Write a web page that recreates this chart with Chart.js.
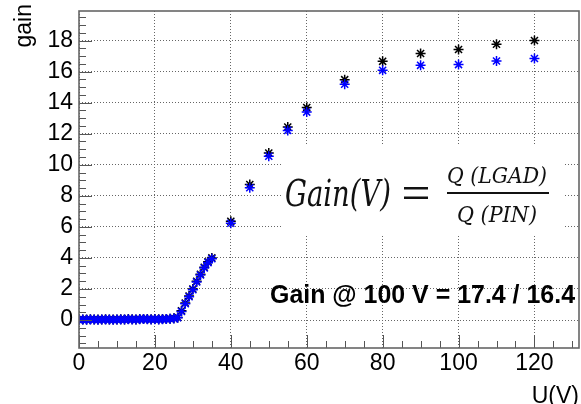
<!DOCTYPE html>
<html lang="en">
<head>
<meta charset="UTF-8">
<title>LGAD gain vs bias voltage</title>
<script src="https://cdn.jsdelivr.net/npm/chart.js"></script>
<style>
  body { margin: 0; background: #fff; }
  #gainChart { display: block; }
</style>
</head>
<body>
<canvas id="gainChart" width="581" height="404"></canvas>
<script>
  // bias voltage (V)
  const voltage = [
    0, 1, 2, 3, 4, 5, 6, 7, 8, 9, 10, 11, 12, 13, 14, 15, 16, 17, 18, 19,
    20, 21, 22, 23, 24, 25, 26, 27, 28, 29, 30, 31, 32, 33, 34, 35,
    40, 45, 50, 55, 60, 70, 80, 90, 100, 110, 120
  ];
  // gain, first measurement (black stars)
  const gainBlack = [
    0.03, 0.04, 0.03, 0.05, 0.04, 0.03, 0.04, 0.05, 0.04, 0.03, 0.04, 0.05, 0.04, 0.06, 0.05, 0.04, 0.06, 0.07, 0.06, 0.05,
    0.06, 0.05, 0.06, 0.07, 0.09, 0.11, 0.17, 0.6, 1.1, 1.55, 2.0, 2.5, 2.95, 3.4, 3.75, 4.0,
    6.36, 8.73, 10.75, 12.43, 13.68, 15.48, 16.66, 17.16, 17.42, 17.76, 18.0
  ];
  // gain, second measurement (blue stars)
  const gainBlue = [
    0.02, 0.03, 0.02, 0.04, 0.03, 0.02, 0.03, 0.04, 0.03, 0.02, 0.03, 0.04, 0.03, 0.05, 0.04, 0.03, 0.05, 0.06, 0.05, 0.04,
    0.05, 0.04, 0.05, 0.06, 0.08, 0.1, 0.15, 0.55, 1.05, 1.5, 1.95, 2.45, 2.9, 3.35, 3.7, 3.95,
    6.23, 8.52, 10.55, 12.21, 13.39, 15.18, 16.08, 16.4, 16.45, 16.68, 16.84
  ];
  const xTicks = [0, 20, 40, 60, 80, 100, 120];
  const yTicks = [0, 2, 4, 6, 8, 10, 12, 14, 16, 18];

  const toPoints = (ys) => voltage.map((v, i) => ({ x: v, y: ys[i] }));

  // draw text squeezed/stretched to a given width
  function fitText(ctx, text, x, y, width, font) {
    ctx.font = font;
    const w = ctx.measureText(text).width;
    ctx.save();
    ctx.translate(x, y);
    ctx.scale(width / w, 1);
    ctx.fillText(text, 0, 0);
    ctx.restore();
  }

  // ROOT-like frame with ticks pointing inside, plus the annotations
  const rootFrame = {
    id: 'rootFrame',
    afterDatasetsDraw(chart) {
      const { ctx, chartArea: a, scales: { x, y } } = chart;
      ctx.save();
      ctx.strokeStyle = '#555';
      ctx.lineWidth = 1;
      ctx.beginPath();
      for (let i = 0; i <= 26; i++) {
        const v = i * 5;
        const px = Math.round(x.getPixelForValue(v)) + 0.5;
        const len = v % 20 === 0 ? 13 : 7;
        ctx.moveTo(px, a.bottom);
        ctx.lineTo(px, a.bottom - len);
      }
      for (let k = -3; k <= 39; k++) {
        const py = Math.round(y.getPixelForValue(k / 2)) + 0.5;
        const len = k % 4 === 0 ? 13 : 7;
        ctx.moveTo(a.left, py);
        ctx.lineTo(a.left + len, py);
      }
      ctx.stroke();
      ctx.lineWidth = 1.6;
      ctx.strokeStyle = '#666';
      ctx.strokeRect(a.left, a.top, a.right - a.left - 1, a.bottom - a.top);
      ctx.restore();
    },
    afterDraw(chart) {
      const { ctx } = chart;
      ctx.save();
      // formula box
      ctx.fillStyle = '#fff';
      ctx.fillRect(282, 145, 283, 91);
      ctx.fillStyle = '#111';
      ctx.textAlign = 'left';
      ctx.textBaseline = 'alphabetic';
      fitText(ctx, 'Gain(V)', 285, 206, 106, 'italic 37px "DejaVu Serif"');
      ctx.fillRect(404, 187, 24, 2.5);
      ctx.fillRect(404, 196.5, 24, 2.5);
      fitText(ctx, 'Q (LGAD)', 447, 183, 100, 'italic 23px "DejaVu Serif"');
      ctx.fillRect(447, 192, 102, 2);
      fitText(ctx, 'Q (PIN)', 457, 222, 80, 'italic 23px "DejaVu Serif"');
      // gain value text
      ctx.fillStyle = '#000';
      fitText(ctx, 'Gain @ 100 V = 17.4 / 16.4', 270, 303, 305, 'bold 26px "Liberation Sans"');
      // axis titles
      ctx.font = '23px "Liberation Sans"';
      ctx.textAlign = 'right';
      ctx.fillText('U(V)', 579, 403);
      ctx.translate(31, 4);
      ctx.rotate(-Math.PI / 2);
      ctx.fillText('gain', 0, 0);
      ctx.restore();
    }
  };

  const tickFont = { family: '"Liberation Sans"', size: 23 };
  const gridOpts = { color: '#666', lineWidth: 1, drawTicks: false };
  const borderOpts = { display: false, dash: [1, 2] };

  new Chart(document.getElementById('gainChart'), {
    type: 'scatter',
    data: {
      datasets: [
        {
          label: 'blue',
          data: toPoints(gainBlue),
          pointStyle: 'star',
          radius: 5,
          borderWidth: 1.5,
          borderColor: '#0000ff',
          backgroundColor: '#0000ff'
        },
        {
          label: 'black',
          data: toPoints(gainBlack),
          pointStyle: 'star',
          radius: 5,
          borderWidth: 1.5,
          borderColor: '#000',
          backgroundColor: '#000'
        }
      ]
    },
    options: {
      responsive: false,
      devicePixelRatio: 1,
      animation: false,
      layout: { autoPadding: false, padding: { top: 11, right: 1, left: 0, bottom: 0 } },
      plugins: { legend: { display: false }, tooltip: { enabled: false } },
      scales: {
        x: {
          type: 'linear',
          min: 0,
          max: 132,
          grid: gridOpts,
          border: borderOpts,
          ticks: { font: tickFont, color: '#000', padding: 2, autoSkip: false, maxRotation: 0 },
          afterBuildTicks: (s) => { s.ticks = xTicks.map(v => ({ value: v })); },
          afterFit: (s) => { s.height = 56; s.paddingLeft = 0; s.paddingRight = 0; }
        },
        y: {
          type: 'linear',
          min: -1.8,
          max: 19.9,
          grid: gridOpts,
          border: borderOpts,
          ticks: { font: tickFont, color: '#000', padding: 6, autoSkip: false },
          afterBuildTicks: (s) => { s.ticks = yTicks.map(v => ({ value: v })); },
          afterFit: (s) => { s.width = 79; s.paddingTop = 0; s.paddingBottom = 0; }
        }
      }
    },
    plugins: [rootFrame]
  });
</script>
</body>
</html>
